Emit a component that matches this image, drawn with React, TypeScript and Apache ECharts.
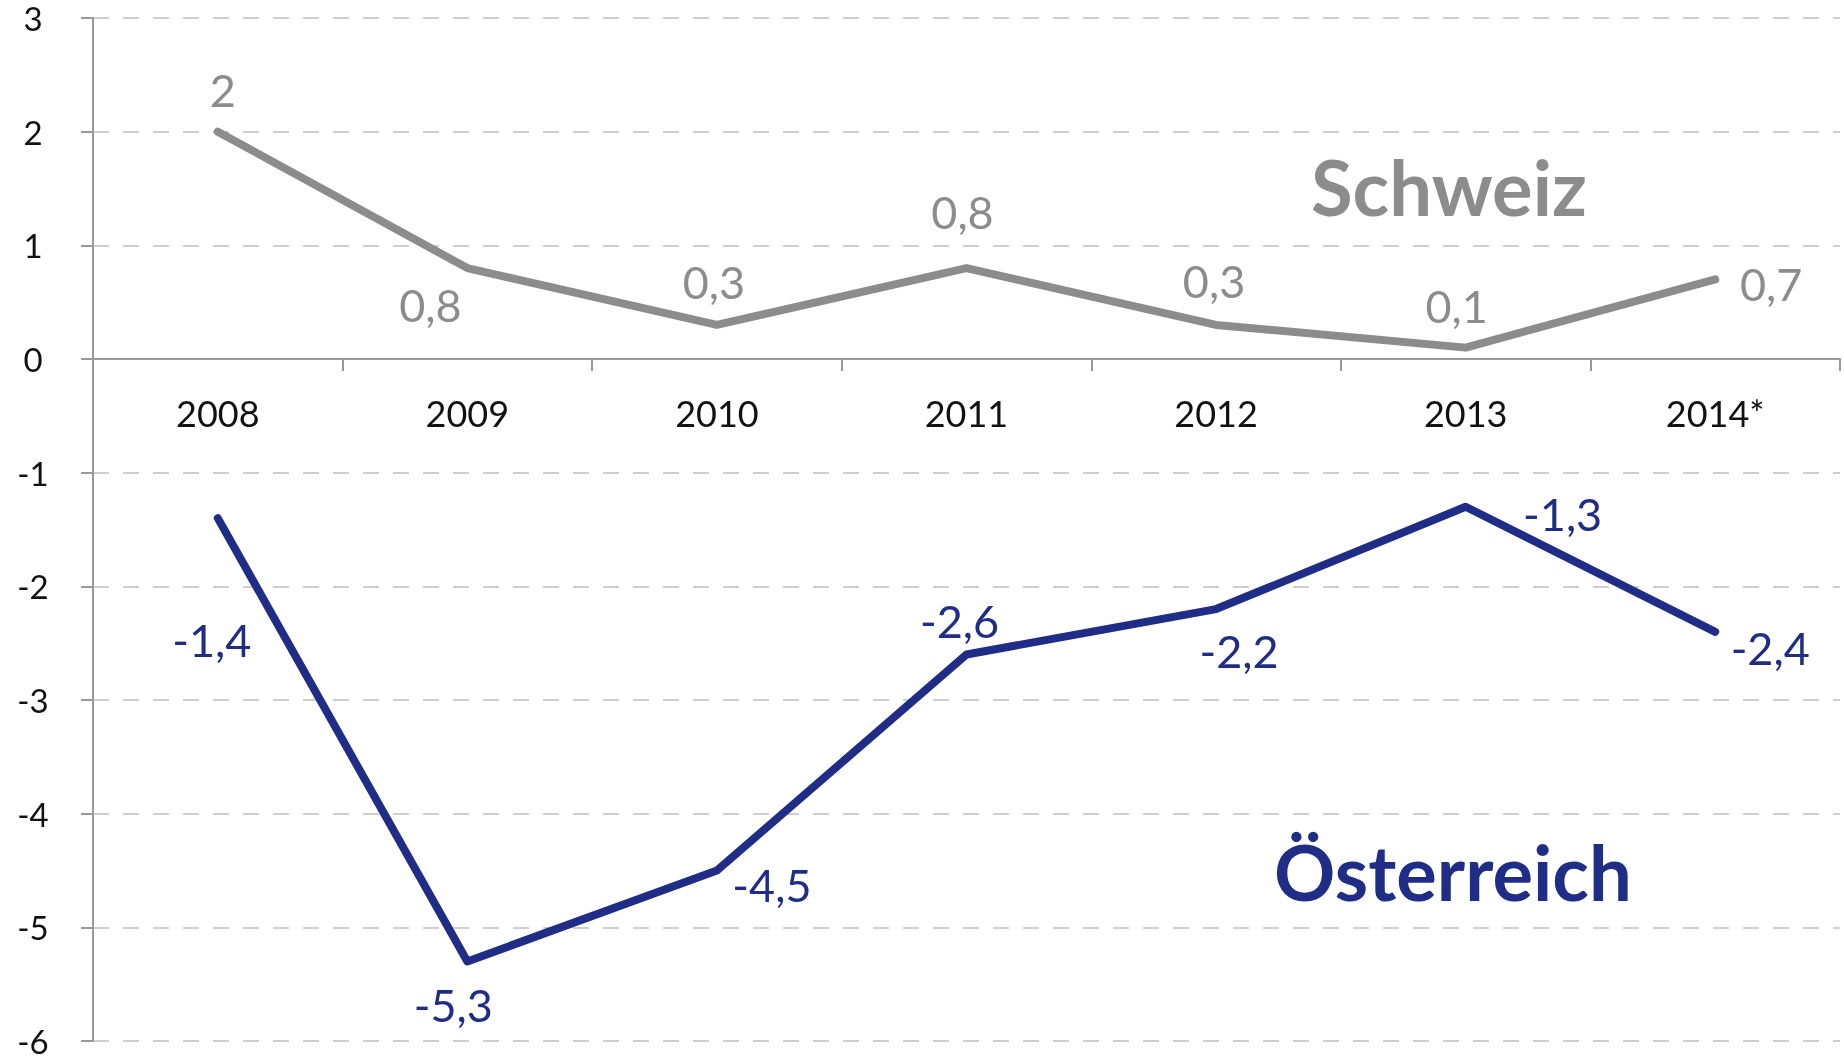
import React, { useEffect, useRef } from "react";
import * as echarts from "echarts";

const categories = ["2008", "2009", "2010", "2011", "2012", "2013", "2014*"];
const schweiz = [2, 0.8, 0.3, 0.8, 0.3, 0.1, 0.7];
const oesterreich = [-1.4, -5.3, -4.5, -2.6, -2.2, -1.3, -2.4];
const yTicks = { min: -6, max: 3, interval: 1 };

// label placement offsets (style only)
const schweizLabelOffsets = [[5, -42], [-37, 37], [-3, -43], [-4, -56], [-2, -44], [-9, -42], [56, 5]];
const oesterreichLabelOffsets = [[-6, 122], [-14, 44], [55, 14], [-7, -34], [23, 42], [97, 7], [55, 16]];

const GREY = "#8c8c8c";
const NAVY = "#1f2d86";
const FONT = "Lato, 'Open Sans', sans-serif";

const W = 1844;
const H = 1061;
const GRID = { left: 93, right: 4, top: 18, bottom: 20 };

function fmt(v: number) {
  return String(v).replace(".", ",");
}

export default function App() {
  const ref = useRef<HTMLDivElement>(null);
  useEffect(() => {
    document.body.style.margin = "0";
    const chart = echarts.init(ref.current!, null, { renderer: "svg" });
    const gridH = H - GRID.top - GRID.bottom;
    const zeroFromBottom = gridH * (0 - yTicks.min) / (yTicks.max - yTicks.min);
    const mk = (vals: number[], offs: number[][], color: string) =>
      vals.map((v, i) => ({
        value: v,
        label: {
          show: true,
          position: "inside",
          offset: offs[i],
          formatter: () => fmt(v),
          color,
          fontSize: 45,
          fontFamily: FONT,
        },
      }));
    chart.setOption({
      animation: false,
      grid: { ...GRID, containLabel: false, outerBoundsMode: "none" },
      xAxis: {
        type: "category",
        data: categories,
        boundaryGap: true,
        offset: -zeroFromBottom,
        axisLine: { onZero: false, lineStyle: { color: "#999", width: 2 } },
        axisTick: { show: true, length: 12, lineStyle: { color: "#999", width: 2 } },
        axisLabel: { color: "#111", fontSize: 36, fontFamily: FONT, margin: 36 },
        splitLine: { show: false },
      },
      yAxis: {
        type: "value",
        min: yTicks.min,
        max: yTicks.max,
        interval: yTicks.interval,
        axisLine: { show: true, lineStyle: { color: "#999", width: 2 } },
        axisTick: { show: true, length: 12, lineStyle: { color: "#999", width: 2 } },
        axisLabel: {
          color: "#111",
          fontSize: 33,
          fontFamily: FONT,
          align: "center",
          margin: 60,
        },
        splitLine: { show: true, lineStyle: { color: "#cfcfcf", width: 2, type: [16, 14] } },
      },
      series: [
        {
          name: "Schweiz",
          type: "line",
          data: mk(schweiz, schweizLabelOffsets, GREY),
          symbol: "circle",
          symbolSize: 1,
          itemStyle: { color: GREY },
          lineStyle: { color: GREY, width: 8, cap: "round", join: "round" },
          z: 3,
        },
        {
          name: "Österreich",
          type: "line",
          data: mk(oesterreich, oesterreichLabelOffsets, NAVY),
          symbol: "circle",
          symbolSize: 1,
          itemStyle: { color: NAVY },
          lineStyle: { color: NAVY, width: 8, cap: "round", join: "round" },
          z: 3,
        },
      ],
      graphic: [
        {
          type: "text",
          left: 1311,
          top: 148,
          style: { text: "Schweiz", fill: GREY, font: `bold 76px ${FONT}` },
        },
        {
          type: "text",
          left: 1274,
          top: 833,
          style: { text: "Österreich", fill: NAVY, font: `bold 76px ${FONT}` },
        },
      ],
    });
    return () => chart.dispose();
  }, []);
  return <div ref={ref} style={{ position: "fixed", left: 0, top: 0, width: W, height: H }} />;
}
